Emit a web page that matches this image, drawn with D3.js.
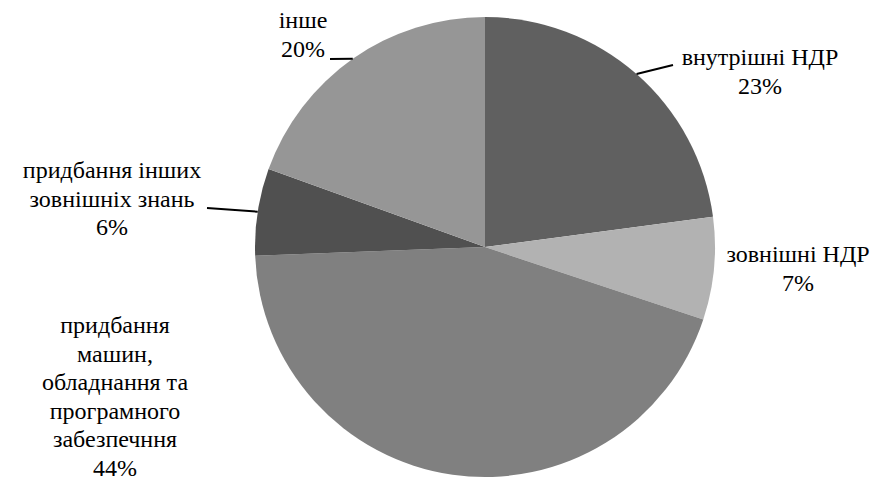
<!DOCTYPE html>
<html>
<head>
<meta charset="utf-8">
<script src="https://cdn.jsdelivr.net/npm/d3@7"></script>
<style>
  body { margin: 0; background: #fff; }
</style>
</head>
<body>
<div id="chart"></div>
<script>
const width = 880;
const height = 490;

// data (shares in %, labels show them rounded)
const categories = ["внутрішні НДР", "зовнішні НДР", "придбання машин, обладнання та програмного забезпечння", "придбання інших зовнішніх знань", "інше"];
const values = [22.9, 7.2, 44.3, 6.1, 19.5];
const colors = ["#606060", "#b2b2b2", "#808080", "#505050", "#969696"];
const nameLines = [
    ["внутрішні НДР"],
    ["зовнішні НДР"],
    ["придбання", "машин,", "обладнання та", "програмного", "забезпечння"],
    ["придбання інших", "зовнішніх знань"],
    ["інше"]
];

// where each label block sits (centre x, first baseline y) and where its leader ends
const labelLayout = [
    { x: 760, y: 65, leader: [673, 65] },
    { x: 798, y: 262, leader: null },
    { x: 115, y: 333, leader: null },
    { x: 112, y: 178, leader: [207, 208] },
    { x: 303, y: 28, leader: [330, 59] }
];

const cx = 485, cy = 247, radius = 230;
const lineHeight = 28.5;

const svg = d3.select("#chart").append("svg")
    .attr("width", width)
    .attr("height", height);

const pie = d3.pie().sort(null).value(d => d);
const arcs = pie(values);

const arc = d3.arc().innerRadius(0).outerRadius(radius);

const g = svg.append("g").attr("transform", `translate(${cx},${cy})`);

g.selectAll("path.slice")
    .data(arcs)
    .enter()
    .append("path")
    .attr("class", "slice")
    .attr("d", arc)
    .attr("fill", (d, i) => colors[i]);

// leader lines from slice edge (mid angle) to label
arcs.forEach((d, i) => {
    const lay = labelLayout[i];
    if (!lay.leader) return;
    const mid = (d.startAngle + d.endAngle) / 2;
    const sx = cx + radius * Math.sin(mid);
    const sy = cy - radius * Math.cos(mid);
    svg.append("line")
        .attr("x1", sx).attr("y1", sy)
        .attr("x2", lay.leader[0]).attr("y2", lay.leader[1])
        .attr("stroke", "#000")
        .attr("stroke-width", 2);
});

// labels, one text element per line, centred by measuring
nameLines.forEach((lines, i) => {
    const lay = labelLayout[i];
    const all = lines.concat([Math.round(values[i]) + "%"]);
    all.forEach((ln, j) => {
        const t = svg.append("text")
            .attr("y", lay.y + j * lineHeight)
            .style("font-family", "'Liberation Serif'")
            .style("font-size", "24px")
            .attr("fill", "#000")
            .text(ln);
        const w = t.node().getComputedTextLength();
        t.attr("x", lay.x - w / 2);
    });
});
</script>
</body>
</html>
